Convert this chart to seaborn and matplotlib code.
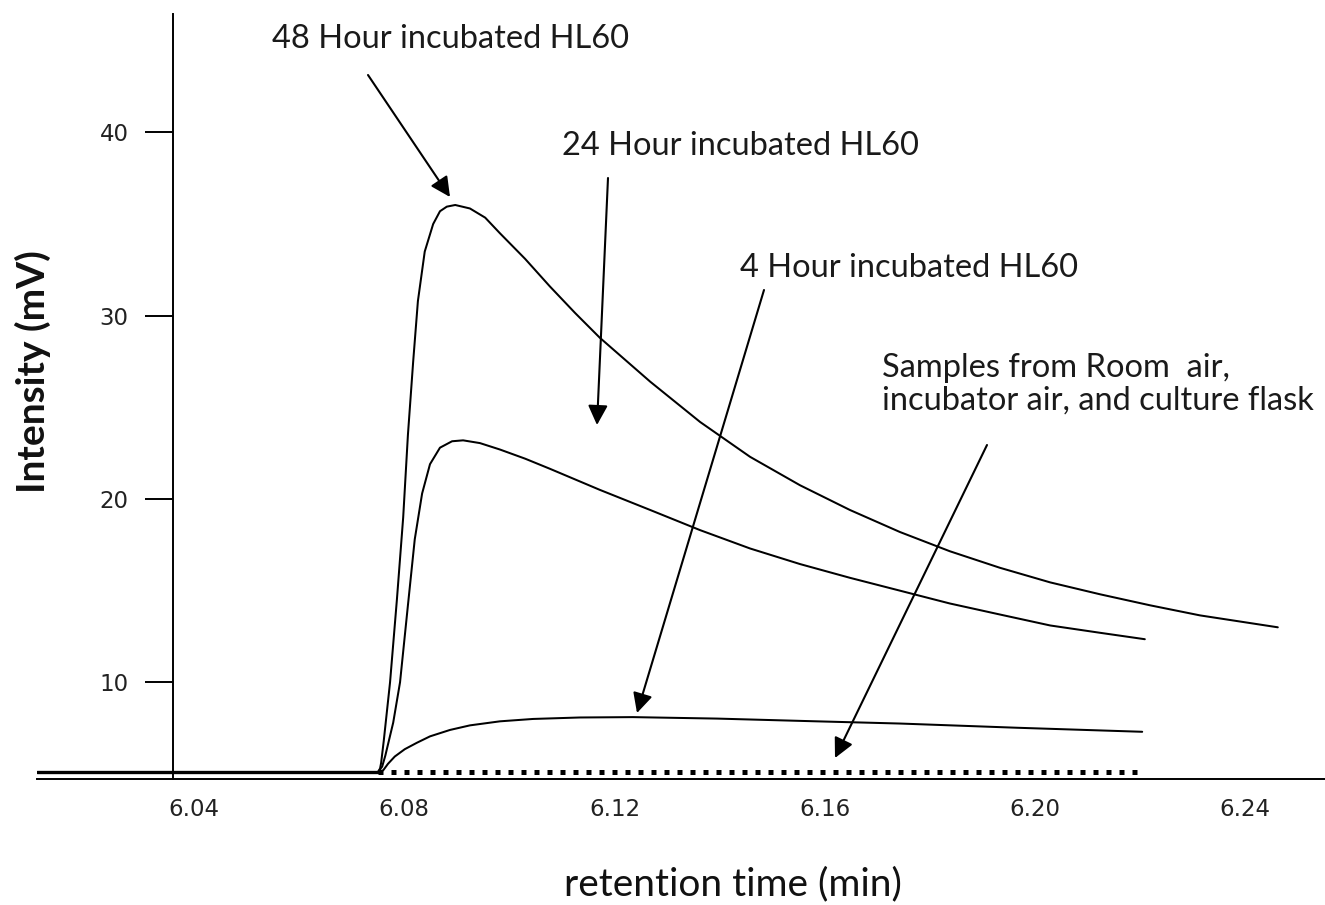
import matplotlib
matplotlib.use("Agg")
import matplotlib.pyplot as plt
import seaborn as sns

# ---------------- data (retention time in min, intensity in mV) ----------------
time_48h = [6.0101, 6.0750, 6.0754, 6.0756, 6.0761, 6.0773, 6.0786, 6.0798, 6.0807,
            6.0817, 6.0826, 6.0839, 6.0855, 6.0868, 6.0881, 6.0897, 6.0925, 6.0954,
            6.0982, 6.1030, 6.1077, 6.1125, 6.1172, 6.1268, 6.1363, 6.1458, 6.1553,
            6.1648, 6.1743, 6.1838, 6.1933, 6.2029, 6.2124, 6.2219, 6.2314, 6.2462]
int_48h = [5.1, 5.1, 5.3, 5.6, 6.8, 10.0, 14.5, 19.0, 23.5,
           27.5, 30.8, 33.5, 35.0, 35.7, 35.95, 36.04, 35.85, 35.35,
           34.5, 33.1, 31.6, 30.15, 28.8, 26.4, 24.2, 22.3, 20.75,
           19.4, 18.2, 17.15, 16.25, 15.45, 14.8, 14.2, 13.65, 13.0]

time_24h = [6.0101, 6.0750, 6.0758, 6.0764, 6.0779, 6.0792, 6.0807, 6.0820, 6.0834,
            6.0849, 6.0868, 6.0891, 6.0912, 6.0944, 6.0982, 6.1030, 6.1077, 6.1172,
            6.1268, 6.1363, 6.1458, 6.1553, 6.1648, 6.1743, 6.1838, 6.1933, 6.2029,
            6.2124, 6.2209]
int_24h = [5.1, 5.1, 5.4, 6.0, 7.8, 10.0, 14.2, 17.8, 20.3,
           21.9, 22.8, 23.15, 23.2, 23.05, 22.7, 22.2, 21.65, 20.5,
           19.4, 18.3, 17.3, 16.45, 15.7, 15.0, 14.3, 13.7, 13.1,
           12.7, 12.35]

time_4h = [6.0101, 6.0750, 6.0760, 6.0769, 6.0782, 6.0801, 6.0824, 6.0849, 6.0887,
           6.0925, 6.0982, 6.1045, 6.1134, 6.1235, 6.1395, 6.1585, 6.1743, 6.1966,
           6.2204]
int_4h = [5.1, 5.1, 5.2, 5.55, 5.95, 6.35, 6.7, 7.05, 7.4,
          7.65, 7.87, 8.0, 8.08, 8.1, 8.02, 7.87, 7.75, 7.52,
          7.3]

time_samples_base = [6.0101, 6.0750]
int_samples_base = [5.1, 5.1]
time_samples = [6.0750, 6.2204]
int_samples = [5.1, 5.1]

xtick_values = [6.04, 6.08, 6.12, 6.16, 6.20, 6.24]
xtick_labels = ["6.04", "6.08", "6.12", "6.16", "6.20", "6.24"]
ytick_values = [10, 20, 30, 40]
ytick_labels = ["10", "20", "30", "40"]

label_48 = "48 Hour incubated HL60"
label_24 = "24 Hour incubated HL60"
label_4 = "4 Hour incubated HL60"
label_samples_1 = "Samples from Room  air,"
label_samples_2 = "incubator air, and culture flask"
x_title = "retention time (min)"
y_title = "Intensity (mV)"

# ---------------- styling ----------------
sns.set_style("white")
plt.rcParams["font.family"] = ["DejaVu Sans"]

W, H = 1325, 905
fig = plt.figure(figsize=(W / 100, H / 100), dpi=100)
ax = fig.add_axes([37 / W, 126 / H, 1288 / W, 765 / H])

line_kw = dict(color="black", linewidth=1.45, sort=False, estimator=None, ax=ax)
sns.lineplot(x=time_48h, y=int_48h, **line_kw)
sns.lineplot(x=time_24h, y=int_24h, **line_kw)
sns.lineplot(x=time_4h, y=int_4h, **line_kw)
sns.lineplot(x=time_samples_base, y=int_samples_base, color="black", linewidth=2.4,
             sort=False, estimator=None, ax=ax)
dotted = sns.lineplot(x=time_samples, y=int_samples, color="black", linewidth=3.6,
                      sort=False, estimator=None, ax=ax)
dotted.lines[-1].set_dashes((1, 1.6))
dotted.lines[-1].set_dash_capstyle("butt")

ax.set_xlim(6.01013, 6.25518)
ax.set_ylim(4.724, 46.46)
ax.set_xticks(xtick_values)
ax.set_xticklabels(xtick_labels)
ax.set_yticks(ytick_values)
ax.set_yticklabels(ytick_labels)
ax.set_xlabel("")
ax.set_ylabel("")

for s in ["top", "right"]:
    ax.spines[s].set_visible(False)
for s in ["left", "bottom"]:
    ax.spines[s].set_linewidth(1.4)
    ax.spines[s].set_color("black")
ax.spines["left"].set_position(("data", 6.036))

ax.tick_params(axis="y", direction="out", length=20, width=1.4, pad=12,
               labelsize=16.5, colors="black", labelcolor="#222222", left=True)
ax.tick_params(axis="x", length=0, pad=13.5, labelsize=16.5, labelcolor="#222222")

txt_kw = dict(fontsize=23.5, family=["Lato", "DejaVu Sans"], color="#1a1a1a",
              ha="left", va="baseline")
fig.text(272 / W, 1 - 48 / H, label_48, **txt_kw)
fig.text(562 / W, 1 - 155 / H, label_24, **txt_kw)
fig.text(740 / W, 1 - 277 / H, label_4, **txt_kw)
fig.text(882 / W, 1 - 377 / H, label_samples_1, **txt_kw)
fig.text(882 / W, 1 - 410 / H, label_samples_2, **txt_kw)

fig.text(733 / W, 1 - 884 / H, x_title, fontsize=28, family=["Lato", "DejaVu Sans"],
         color="#111111", ha="center", va="center")
fig.text(33 / W, 1 - 372 / H, y_title, fontsize=28, family=["Lato", "DejaVu Sans"],
         fontweight="bold", color="#111111", ha="center", va="center", rotation=90)

arrow_kw = dict(arrowstyle="-|>,head_length=0.6,head_width=0.3", mutation_scale=20,
                lw=1.5, color="black", shrinkA=0, shrinkB=0)
arrows = [((368, 75), (450, 197)),
          ((608, 178), (597, 425)),
          ((764, 290), (637, 713)),
          ((987, 445), (835, 758))]
for (sx, sy), (tx, ty) in arrows:
    ax.annotate("", xy=(tx, H - ty), xytext=(sx, H - sy),
                xycoords="figure pixels", textcoords="figure pixels",
                arrowprops=arrow_kw)

fig.savefig("out.png", dpi=100)
